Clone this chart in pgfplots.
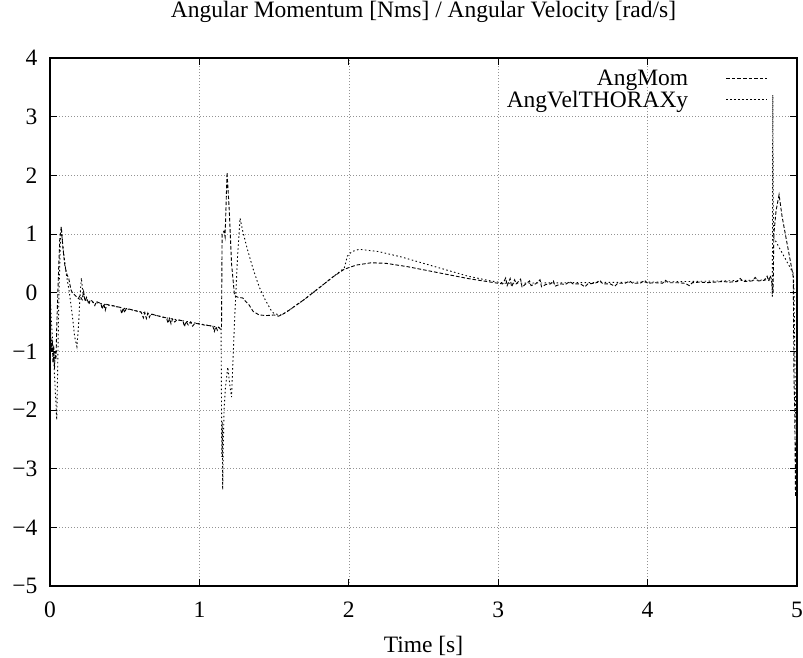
\documentclass[border=0pt]{standalone}
\usepackage{fontspec}
\setmainfont{Liberation Serif}
\usepackage{pgfplots}
\pgfplotsset{compat=1.18}
\begin{document}
\begin{tikzpicture}
\path[use as bounding box] (-50pt,-71pt) rectangle (753pt,586pt);
\begin{axis}[
  at={(0pt,0pt)}, anchor=south west,
  scale only axis, width=747pt, height=528pt,
  xmin=0, xmax=5, ymin=-5, ymax=4,
  xtick={0,1,2,3,4,5}, xticklabels={0,1,2,3,4,5},
  ytick={-5,-4,-3,-2,-1,0,1,2,3,4},
  yticklabels={−5,−4,−3,−2,−1,0,1,2,3,4},
  tick align=inside, xtick pos=both, ytick pos=both,
  major tick length=7pt,
  tick style={black, line width=0.7pt},
  axis line style={black, line width=1.1pt},
  grid=major,
  grid style={gray!85, dash pattern=on 0.9pt off 2.1pt, line width=0.6pt},
  ticklabel style={font=\fontsize{23.5}{26}\selectfont},
  xticklabel style={anchor=base, yshift=-31pt},
  yticklabel style={anchor=east, xshift=-9pt},
  title={Angular Momentum [Nms] / Angular Velocity [rad/s]},
  title style={font=\fontsize{23.5}{26}\selectfont, at={(0.5,1)}, anchor=base, yshift=35pt},
  xlabel={Time [s]},
  xlabel style={font=\fontsize{23.5}{26}\selectfont, at={(0.5,0)}, anchor=base, yshift=-66pt},
  legend style={draw=none, fill=none, at={(0.961,0.982)}, anchor=north east,
    font=\fontsize{23.5}{22}\selectfont, row sep=0pt, inner sep=0pt,
    cells={anchor=east}},
  legend plot pos=right,
  legend image code/.code={\path[draw=none] (0pt,0pt) -- (36pt,0pt); \draw[#1] (36pt,0pt) -- (77pt,0pt);},
]
% AngMom
\addplot[black, line width=0.9pt, dash pattern=on 3.6pt off 2pt] coordinates {
(0,0) (0.005,-0.7) (0.01,-1.0) (0.015,-0.8) (0.02,-1.2) (0.025,-0.9) (0.03,-1.3)
(0.035,-1.0) (0.04,-1.15) (0.045,-0.6) (0.055,0.2) (0.065,0.9) (0.075,1.12)
(0.085,0.8) (0.1,0.45) (0.115,0.3) (0.125,0.25) (0.14,0.05) (0.15,0.0) (0.17,-0.05)
(0.19,-0.1) (0.20,-0.05) (0.215,-0.12) (0.225,0.02) (0.235,-0.15) (0.245,-0.08)
(0.26,-0.2) (0.27,-0.12) (0.285,-0.15) (0.30,-0.22) (0.31,-0.15) (0.325,-0.17)
(0.34,-0.18) (0.35,-0.28) (0.36,-0.19) (0.37,-0.30) (0.38,-0.2) (0.395,-0.21)
(0.42,-0.22) (0.45,-0.24) (0.47,-0.25) (0.48,-0.36) (0.49,-0.26) (0.50,-0.34)
(0.51,-0.27) (0.53,-0.28) (0.56,-0.3) (0.59,-0.32) (0.61,-0.33) (0.625,-0.43)
(0.635,-0.34) (0.645,-0.44) (0.655,-0.35) (0.665,-0.42) (0.675,-0.36) (0.70,-0.38)
(0.73,-0.4) (0.76,-0.42) (0.78,-0.43) (0.79,-0.52) (0.80,-0.44) (0.81,-0.53)
(0.82,-0.45) (0.835,-0.5) (0.85,-0.46) (0.87,-0.47) (0.89,-0.48) (0.90,-0.58)
(0.91,-0.49) (0.925,-0.55) (0.94,-0.5) (0.955,-0.57) (0.97,-0.52) (0.99,-0.53)
(1.01,-0.54) (1.03,-0.55) (1.06,-0.56) (1.09,-0.57) (1.10,-0.66) (1.11,-0.58)
(1.12,-0.64) (1.13,-0.59) (1.14,-0.62) (1.148,-0.6) (1.152,1.0) (1.165,1.05)
(1.172,0.95) (1.185,2.05) (1.2,1.4) (1.215,0.5) (1.235,-0.05) (1.26,-0.08)
(1.29,-0.09) (1.31,-0.15) (1.33,-0.2) (1.36,-0.32) (1.40,-0.38) (1.45,-0.39)
(1.5,-0.38) (1.53,-0.4) (1.55,-0.38) (1.6,-0.3) (1.7,-0.12) (1.8,0.08) (1.9,0.28)
(1.97,0.4) (2.05,0.47) (2.15,0.51) (2.25,0.5) (2.4,0.44) (2.6,0.34) (2.8,0.24)
(3.00,0.16) (3.03,0.15) (3.05,0.25) (3.06,0.12) (3.08,0.24) (3.09,0.1) (3.11,0.22)
(3.12,0.15) (3.15,0.23) (3.16,0.09) (3.18,0.14) (3.21,0.2) (3.22,0.12) (3.25,0.15)
(3.28,0.22) (3.29,0.1) (3.32,0.14) (3.35,0.15) (3.37,0.2) (3.38,0.11) (3.42,0.15)
(3.45,0.14) (3.48,0.19) (3.5,0.15) (3.55,0.15) (3.58,0.1) (3.6,0.15) (3.65,0.16)
(3.68,0.21) (3.7,0.15) (3.75,0.15) (3.78,0.11) (3.8,0.16) (3.85,0.16) (3.88,0.2)
(3.9,0.16) (3.95,0.16) (3.98,0.21) (4.0,0.16) (4.05,0.17) (4.1,0.16) (4.12,0.21)
(4.14,0.17) (4.2,0.17) (4.25,0.16) (4.28,0.12) (4.3,0.17) (4.35,0.18) (4.4,0.17)
(4.45,0.18) (4.5,0.19) (4.55,0.18) (4.6,0.19) (4.62,0.24) (4.64,0.19) (4.7,0.2)
(4.72,0.26) (4.74,0.2) (4.78,0.21) (4.8,0.28) (4.81,0.2) (4.82,0.29) (4.83,0.22)
(4.84,0.0) (4.845,1.0) (4.86,1.4) (4.88,1.67) (4.9,1.3) (4.975,0.27) (4.98,-1.5)
(4.985,-2.0) (4.99,-3.48) (4.995,-2.5) (5.0,-3.0)
};
\addlegendentry{AngMom}
% AngVelTHORAXy
\addplot[black, line width=0.9pt, dash pattern=on 1.5pt off 2.5pt] coordinates {
(0,0) (0.01,-0.5) (0.02,-0.9) (0.03,-1.4) (0.04,-1.9) (0.045,-2.17) (0.05,-1.5)
(0.06,0.0) (0.07,0.9) (0.078,1.05) (0.09,0.7) (0.11,0.3) (0.13,0.0) (0.15,-0.4)
(0.165,-0.75) (0.18,-0.92) (0.19,-0.6) (0.2,-0.1) (0.21,0.25) (0.22,0.0)
(0.235,-0.12) (0.25,-0.15) (0.33,-0.18) (0.56,-0.3) (0.78,-0.43) (1.0,-0.53)
(1.145,-0.6) (1.15,-2.8) (1.153,-2.2) (1.156,-3.36) (1.16,-2.6) (1.165,-2.0)
(1.175,-1.6) (1.19,-1.27) (1.205,-1.6) (1.215,-1.78) (1.235,-0.5) (1.255,0.6)
(1.272,1.27) (1.29,1.05) (1.32,0.75) (1.36,0.4) (1.40,0.1) (1.44,-0.12)
(1.48,-0.3) (1.5,-0.36) (1.55,-0.38) (1.6,-0.3) (1.7,-0.12) (1.8,0.08) (1.9,0.28)
(1.97,0.42) (1.99,0.62) (2.02,0.7) (2.07,0.74) (2.2,0.7) (2.35,0.61) (2.5,0.5)
(2.65,0.39) (2.8,0.28) (2.95,0.2) (3.05,0.16) (3.5,0.17) (4.0,0.18) (4.5,0.2)
(4.83,0.22) (4.835,-0.07) (4.838,3.37) (4.842,0.95) (4.975,0.33) (4.98,0.0)
(4.99,-2.0) (5.0,-2.8)
};
\addlegendentry{AngVelTHORAXy}
\end{axis}
\end{tikzpicture}
\end{document}
